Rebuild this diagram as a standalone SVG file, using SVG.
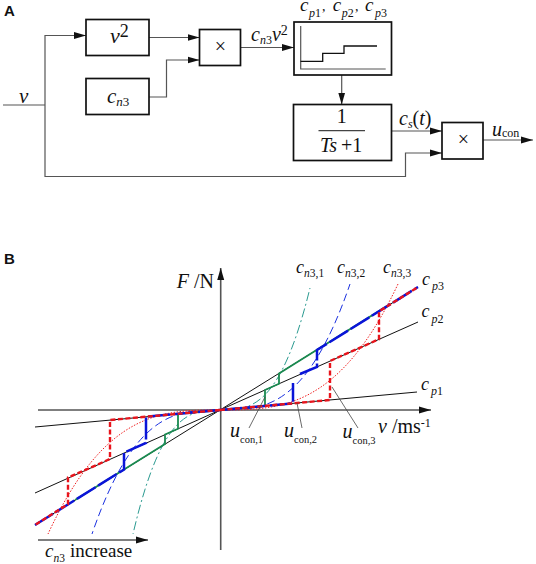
<svg xmlns="http://www.w3.org/2000/svg" width="536" height="564" viewBox="0 0 536 564">
<style>
text{font-family:"Liberation Serif","Times New Roman",serif;fill:#111}
.i{font-style:italic}
.p{font-family:"Liberation Sans",Arial,sans-serif;font-weight:bold;font-size:15px}
.box{fill:#fff;stroke:#111;stroke-width:1.7}
.w{fill:none;stroke:#555;stroke-width:1.2}
.ax{fill:none;stroke:#555;stroke-width:1.6}
.k{fill:none;stroke:#111;stroke-width:1}
.ld{fill:none;stroke:#444;stroke-width:.8}
.red{fill:none;stroke:#e8141c;stroke-width:2.4;stroke-dasharray:5 2.500}
.blue{fill:none;stroke:#0a14d8;stroke-width:2.500;stroke-dasharray:22 3}
.grn{fill:none;stroke:#1a8a50;stroke-width:1.800}
.c1{fill:none;stroke:#2a9a90;stroke-width:1;stroke-dasharray:9 3 2 3}
.c2{fill:none;stroke:#1a30e0;stroke-width:1;stroke-dasharray:8 4}
.c3{fill:none;stroke:#f02020;stroke-width:1;stroke-dasharray:1.500 1.500}
</style>
<defs>
<marker id="a" markerWidth="12" markerHeight="8" refX="12" refY="4" orient="auto" markerUnits="userSpaceOnUse"><path d="M0 0.500L12 4L0 7.500Z" fill="#111"/></marker>
</defs>
<text class="p" x="4" y="16">A</text>
<text class="p" x="4" y="263.500">B</text>
<g id="connectors">
<path class="w" d="M3 105H45"/>
<path class="w" d="M45 105V35.500H86" marker-end="url(#a)"/>
<path class="w" d="M45 105V176.500H405.500V153H442" marker-end="url(#a)"/>
<path class="w" d="M149 37.500H199.500" marker-end="url(#a)"/>
<path class="w" d="M149 97H166.500V60H199.500" marker-end="url(#a)"/>
<path class="w" d="M240.500 47.500H294" marker-end="url(#a)"/>
<path class="w" d="M341.700 75V104.500" marker-end="url(#a)"/>
<path class="w" d="M391.500 131H442" marker-end="url(#a)"/>
<path class="w" d="M483 140H533" marker-end="url(#a)"/>
</g>
<g id="node-v2"><rect class="box" x="86" y="19.500" width="63" height="36"/><text x="110" y="43" font-size="22"><tspan class="i">v</tspan><tspan font-size="18" dy="-6">2</tspan></text></g>
<g id="node-cn3"><rect class="box" x="86" y="78.500" width="63" height="36"/><text x="107" y="102.700" font-size="21"><tspan class="i">c</tspan><tspan class="i" font-size="13" dy="3.300">n</tspan><tspan font-size="13">3</tspan></text></g>
<g id="node-mult1"><rect class="box" x="199.500" y="29.500" width="41" height="36"/><text x="220.500" y="52.500" font-size="20" text-anchor="middle">×</text></g>
<g id="node-lookup"><rect class="box" x="294" y="22" width="97.500" height="53"/>
<path class="w" d="M300.700 26V69H385.700"/><path d="M300.500 61.300H322.700V53.300H344V46H377" fill="none" stroke="#111" stroke-width="1.300"/></g>
<g id="node-lag"><rect class="box" x="293.500" y="104.500" width="98" height="56"/><text x="341.700" y="123.300" font-size="20" text-anchor="middle">1</text><path d="M318.500 130.700H365" stroke="#444" stroke-width="1.200"/><text x="320" y="151.700" font-size="20"><tspan class="i">Ts</tspan><tspan dx="4">+1</tspan></text></g>
<g id="node-mult2"><rect class="box" x="442" y="122.500" width="41" height="36.500"/><text x="463.500" y="145.500" font-size="20" text-anchor="middle">×</text></g>
<text class="i" x="19" y="102.500" font-size="21">v</text>
<text x="251" y="40.700" font-size="20"><tspan class="i">c</tspan><tspan class="i" font-size="12" dy="3">n</tspan><tspan font-size="12">3</tspan><tspan class="i" dy="-3">v</tspan><tspan font-size="14" dy="-6">2</tspan></text>
<text y="10.700" font-size="19"><tspan class="i" x="300">c</tspan><tspan class="i" font-size="12" dy="6" x="309">p</tspan><tspan font-size="12">1</tspan><tspan font-size="14" dy="-6" x="322">,</tspan><tspan class="i" x="332.700">c</tspan><tspan class="i" font-size="12" dy="6" x="341.700">p</tspan><tspan font-size="12">2</tspan><tspan font-size="14" dy="-6" x="355">,</tspan><tspan class="i" x="365">c</tspan><tspan class="i" font-size="12" dy="6" x="375">p</tspan><tspan font-size="12">3</tspan></text>
<text x="399" y="125" font-size="20"><tspan class="i">c</tspan><tspan class="i" font-size="12" dy="3">s</tspan><tspan dy="-3">(</tspan><tspan class="i">t</tspan>)</text>
<text x="492" y="136" font-size="20"><tspan class="i">u</tspan><tspan font-size="12" dy="1">con</tspan></text>

<g id="axes">
<path class="k" d="M220 410L418 287M220 410L35 525M220 410L418 322M220 410L35 493M220 410L417 392M220 410L35 427"/>
<path class="ax" d="M38 410H431" marker-end="url(#a)"/>
<path class="ax" d="M220.700 550V268" marker-end="url(#a)"/>
<path class="ax" d="M38 540H148" marker-end="url(#a)"/>
</g>
<g id="curves">
<path class="c1" d="M220 410C250 410 280 410 310 288"/>
<path class="c2" d="M220 410C263.300 410 306.700 410 350 284"/>
<path class="c3" d="M220 410C279.300 410 338.700 410 398 284"/>
<path class="c1" d="M220 410C191 410 162 410 133 534"/>
<path class="c2" d="M220 410C177.300 410 134.700 410 92 534"/>
<path class="c3" d="M220 410C162.700 410 105.300 410 48 534"/>
</g>
<g id="segments">
<path class="grn" d="M220 410L265 406V390L279 383.700V373.400L387 306M220 410L178 413.800V428.700L165 434.500V444L75 500"/>
<path class="blue" d="M220 410L293 403.400V383M300 374L317 367V350L418 287M220 410L146 416.700V443L124 452.700V469.500L35 525"/>
<path class="red" d="M220 410L330 400V361L379 339.200V311.400L418 287M220 410L110 420V459L68 477.600V504L35 525"/>
</g>
<g id="leaders">
<path class="ld" d="M265 397L249 428M297 403L302 428M332 387L358 428"/>
</g>
<text x="214" y="288" font-size="20" text-anchor="end"><tspan class="i">F</tspan> /N</text>
<text x="378" y="432.700" font-size="20"><tspan class="i">v</tspan> /ms<tspan font-size="12" dy="-6">-1</tspan></text>
<text x="296" y="272.700" font-size="18"><tspan class="i">c</tspan><tspan class="i" font-size="11.500" dy="4.300">n</tspan><tspan font-size="11.500">3,1</tspan></text>
<text x="337" y="272.700" font-size="18"><tspan class="i">c</tspan><tspan class="i" font-size="11.500" dy="4.300">n</tspan><tspan font-size="11.500">3,2</tspan></text>
<text x="383" y="272.700" font-size="18"><tspan class="i">c</tspan><tspan class="i" font-size="11.500" dy="4.300">n</tspan><tspan font-size="11.500">3,3</tspan></text>
<text x="422" y="285" font-size="18"><tspan class="i">c</tspan><tspan class="i" font-size="12" dy="5" dx="2">p</tspan><tspan font-size="12">3</tspan></text>
<text x="421.500" y="317" font-size="18"><tspan class="i">c</tspan><tspan class="i" font-size="12" dy="6" dx="2">p</tspan><tspan font-size="12">2</tspan></text>
<text x="421" y="390" font-size="18"><tspan class="i">c</tspan><tspan class="i" font-size="12" dy="5" dx="2">p</tspan><tspan font-size="12">1</tspan></text>
<text x="230" y="437" font-size="20"><tspan class="i">u</tspan><tspan font-size="10.500" dy="6">con,1</tspan></text>
<text x="284" y="437" font-size="20"><tspan class="i">u</tspan><tspan font-size="10.500" dy="6">con,2</tspan></text>
<text x="342.500" y="438" font-size="20"><tspan class="i">u</tspan><tspan font-size="10.500" dy="5.500">con,3</tspan></text>
<text x="45" y="557" font-size="19"><tspan class="i">c</tspan><tspan class="i" font-size="11.500" dy="4.500">n</tspan><tspan font-size="11.500">3</tspan><tspan dy="-4.500" x="70">increase</tspan></text>
</svg>
